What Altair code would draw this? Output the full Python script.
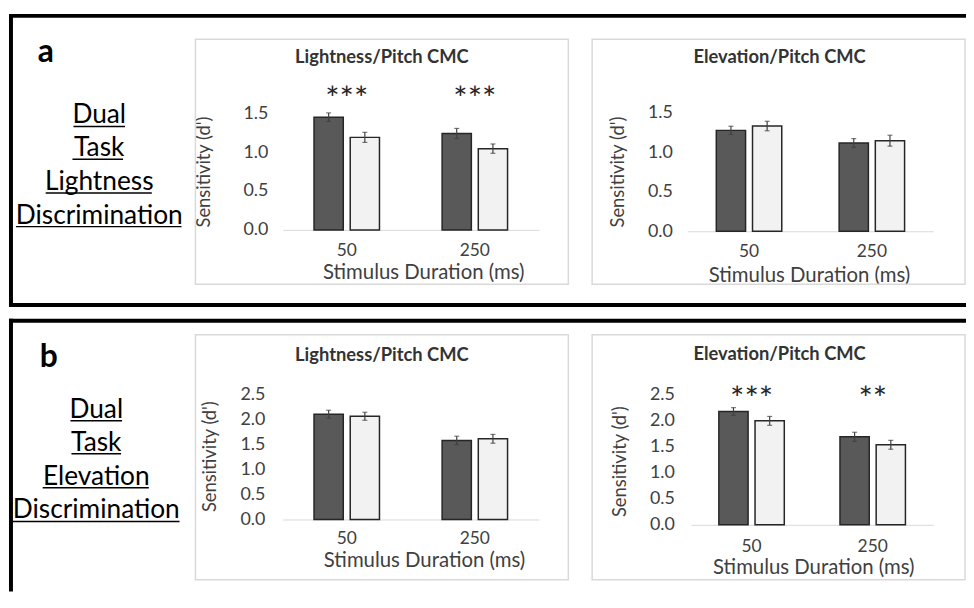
import altair as alt
import pandas as pd

# ---------------- data ----------------
durations = ["50", "250"]
conditions = ["Congruent", "Incongruent"]

# order: (50, Congruent), (50, Incongruent), (250, Congruent), (250, Incongruent)
a1_values = [1.45, 1.19, 1.24, 1.045]
a1_errors = [0.055, 0.065, 0.065, 0.06]
a1_sig = ["***", "***"]

a2_values = [1.275, 1.33, 1.115, 1.145]
a2_errors = [0.052, 0.06, 0.056, 0.069]
a2_sig = ["", ""]

b1_values = [2.10, 2.06, 1.577, 1.61]
b1_errors = [0.08, 0.08, 0.085, 0.088]
b1_sig = ["", ""]

b2_values = [2.17, 1.99, 1.684, 1.532]
b2_errors = [0.073, 0.085, 0.088, 0.085]
b2_sig = ["***", "**"]

a_yticks = [0.0, 0.5, 1.0, 1.5]
b_yticks = [0.0, 0.5, 1.0, 1.5, 2.0, 2.5]

panel_titles = ["Lightness/Pitch CMC", "Elevation/Pitch CMC"]
row_letters = ["a", "b"]
row_a_words = ["Dual", "Task", "Lightness", "Discrimination"]
row_b_words = ["Dual", "Task", "Elevation", "Discrimination"]
y_title = "Sensitivity (d')"
x_title = "Stimulus Duration (ms)"

# ---------------- layout / style ----------------
W, H = 966, 586
FONT = "Lato"
TXT = "#404040"
BAR_W, BAR_GAP = 29.5, 7
one = pd.DataFrame({"k": [0]})


def txt(text, x, y, size, weight="normal", color="#000000", align="center", baseline="alphabetic"):
    return alt.Chart(one).mark_text(
        text=text, font=FONT, fontSize=size, fontWeight=weight, color=color,
        align=align, baseline=baseline
    ).encode(x=alt.value(x), y=alt.value(y))


def hline(x1, x2, y, color, w):
    return alt.Chart(one).mark_rule(color=color, strokeWidth=w).encode(
        x=alt.value(x1), x2=alt.value(x2), y=alt.value(y))


def vline(x, y1, y2, color, w):
    return alt.Chart(one).mark_rule(color=color, strokeWidth=w).encode(
        x=alt.value(x), y=alt.value(y1), y2=alt.value(y2))


def box(x1, x2, y1, y2):
    return alt.Chart(one).mark_rect(fillOpacity=0, stroke="#d9d9d9", strokeWidth=1.5).encode(
        x=alt.value(x1), x2=alt.value(x2), y=alt.value(y1), y2=alt.value(y2))


def subplot(values, errors, sig, yticks, xr, yr, lab_x, yt, xlab_pad, xt, star_val):
    df = pd.DataFrame({
        "duration": [d for d in durations for _ in conditions],
        "condition": conditions * len(durations),
        "value": values,
        "err": errors,
    })
    df["lo"] = df["value"] - df["err"]
    df["hi"] = df["value"] + df["err"]

    band = (xr[1] - xr[0]) / len(durations)
    step = BAR_W + BAR_GAP
    p_in = BAR_GAP / step
    p_out = (band / step - len(conditions) + p_in) / 2

    x_axis = alt.Axis(
        orient="bottom", offset=yr[0] - H, ticks=False, tickSize=0,
        labelPadding=xlab_pad, labelBaseline="middle", labelAngle=0,
        labelFont=FONT, labelFontSize=17.5, labelColor=TXT,
        domainColor="#d9d9d9", domainWidth=1, grid=False,
        title=x_title, titleFont=FONT, titleFontSize=20.5, titleFontWeight="normal",
        titleColor=TXT, titleX=xt[0], titleY=xt[1] - yr[0],
        titleBaseline="middle", titleAlign="center")
    x = alt.X("duration:N", sort=durations, title=x_title,
              scale=alt.Scale(range=list(xr), paddingInner=0, paddingOuter=0),
              axis=x_axis)
    xo = alt.XOffset("condition:N", sort=conditions,
                     scale=alt.Scale(paddingInner=p_in, paddingOuter=p_out))

    y_axis = alt.Axis(
        orient="left", offset=-lab_x, values=yticks, format=".1f",
        ticks=False, tickSize=0, domain=False, grid=False, labelPadding=0,
        labelFont=FONT, labelFontSize=18, labelColor=TXT,
        title=y_title, titleFont=FONT, titleFontSize=18.5, titleFontWeight="normal",
        titleColor=TXT, titleX=yt[0] - lab_x, titleY=yt[1], titleAngle=270,
        titleBaseline="middle", titleAlign="center")
    y_scale = alt.Scale(domain=[yticks[0], yticks[-1]], range=list(yr), nice=False, zero=True)

    def Y(field):
        return alt.Y(field, type="quantitative", title=y_title, scale=y_scale, axis=y_axis)

    bars = alt.Chart(df).mark_bar(stroke="#262626", strokeWidth=1.5).encode(
        x=x, xOffset=xo, y=Y("value"),
        color=alt.Color("condition:N", sort=conditions,
                        scale=alt.Scale(domain=conditions, range=["#595959", "#f2f2f2"]),
                        legend=None))
    err = alt.Chart(df).mark_rule(color="#404040", strokeWidth=1.2).encode(
        x=x, xOffset=xo, y=Y("lo"), y2="hi:Q")
    cap_hi = alt.Chart(df).mark_tick(color="#404040", thickness=1.2, size=5).encode(
        x=x, xOffset=xo, y=Y("hi"))
    cap_lo = alt.Chart(df).mark_tick(color="#404040", thickness=1.2, size=5).encode(
        x=x, xOffset=xo, y=Y("lo"))
    parts = [bars, err, cap_hi, cap_lo]
    if any(sig):
        sdf = pd.DataFrame({"duration": durations, "sig": sig})
        stars = alt.Chart(sdf).mark_text(font=FONT, fontSize=34, color="#262626",
                                         baseline="middle", dy=5.5).encode(
            x=x, y=alt.datum(star_val), text="sig:N")
        parts.append(stars)
    return alt.layer(*parts)


a1 = subplot(a1_values, a1_errors, a1_sig, a_yticks, (277, 535.3), (221.3, 103.7),
             262, (197, 162.5), 20.7, (418.7, 264), 1.735)
a2 = subplot(a2_values, a2_errors, a2_sig, a_yticks, (685.3, 933), (222.7, 103),
             670, (615, 162.5), 20, (807.7, 267), 1.735)
b1 = subplot(b1_values, b1_errors, b1_sig, b_yticks, (277, 535.3), (513.3, 387),
             259, (203.7, 449.5), 19.7, (419.5, 554.5), 2.5)
b2 = subplot(b2_values, b2_errors, b2_sig, b_yticks, (688.7, 933), (518.7, 387),
             672, (617, 454.5), 21.6, (812, 562), 2.5)

decor = [
    # panel frames
    hline(1, W, 5.5, "#000000", 4), vline(3, 3.5, 299, "#000000", 4), hline(1, W, 297, "#000000", 4),
    hline(1, W, 313, "#000000", 4), vline(3, 311, H, "#000000", 4),
    # sub-chart boxes
    box(189, 565, 29, 276), box(589, 965, 29, 276),
    box(189, 565, 327, 574), box(589, 965, 327, 574),
]

texts = [
    txt(row_letters[0], 30, 52, 32, weight="bold", align="left"),
    txt(row_letters[1], 32, 360, 32, weight="bold", align="left"),
    txt(panel_titles[0], 377, 47, 18.5, weight="bold", color="#333333", baseline="middle"),
    txt(panel_titles[1], 778, 47, 18.5, weight="bold", color="#333333", baseline="middle"),
    txt(panel_titles[0], 377, 347, 18.5, weight="bold", color="#333333", baseline="middle"),
    txt(panel_titles[1], 778, 346, 18.5, weight="bold", color="#333333", baseline="middle"),
]

a_base = [114, 147, 181, 215]
a_ext = [(66, 118), (65, 116), (38, 145), (8, 175)]
for w, yb, (u1, u2) in zip(row_a_words, a_base, a_ext):
    texts.append(txt(w, 92, yb, 26.5))
    texts.append(hline(u1, u2, yb + 3, "#000000", 1.5))

b_base = [410.7, 444, 478.3, 512.3]
b_ext = [(63, 115), (64, 114), (35, 142), (5, 173)]
for w, yb, (u1, u2) in zip(row_b_words, b_base, b_ext):
    texts.append(txt(w, 89, yb, 26.5))
    texts.append(hline(u1, u2, yb + 3, "#000000", 1.5))

chart = alt.layer(*decor, a1, a2, b1, b2, *texts).resolve_scale(
    x="independent", y="independent", xOffset="independent"
).properties(
    width=W, height=H, padding=0, autosize=alt.AutoSizeParams(type="none")
).configure_view(stroke=None)

chart.save("out.html", embed_options={"renderer": "svg", "actions": False})
